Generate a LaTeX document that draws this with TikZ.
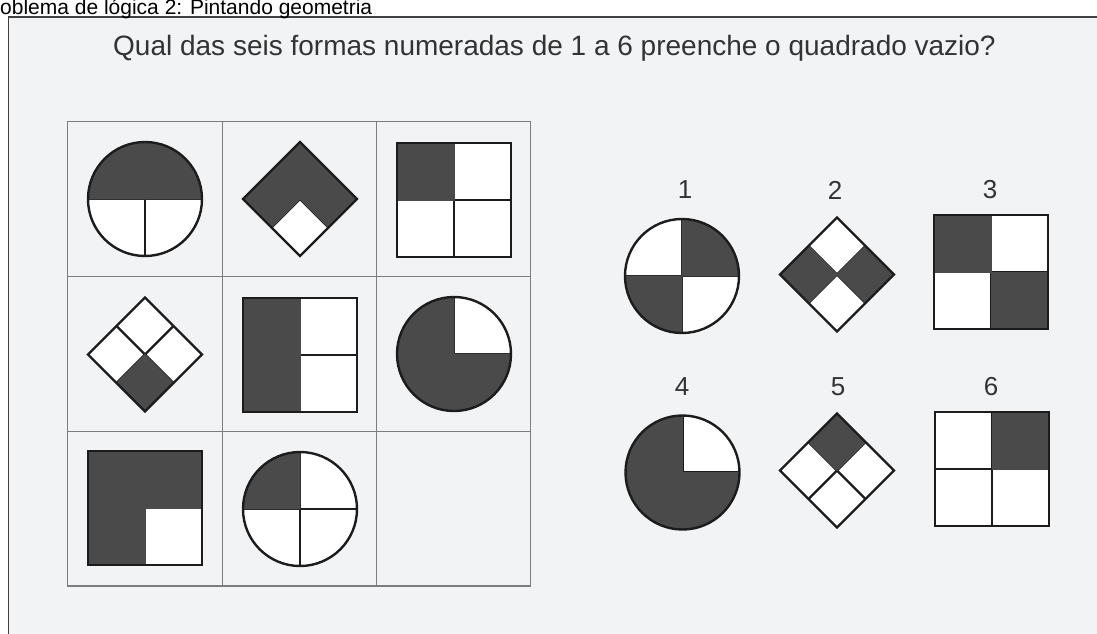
\documentclass[tikz,border=0pt]{standalone}
\usepackage{fontspec}
\setmainfont{Liberation Sans}
\usepackage{xcolor}
\definecolor{paper}{RGB}{242,243,245}
\definecolor{inkdark}{RGB}{74,74,74}
\definecolor{inkline}{RGB}{28,28,28}
\definecolor{gridgray}{RGB}{125,125,125}
\definecolor{framegray}{RGB}{64,64,64}
\usepackage{tikz}

\begin{document}
\begin{tikzpicture}[x=1pt, y=1pt,
  dk/.style={fill=inkdark, draw=inkdark, line width=0.8pt}, wt/.style={},
  figline/.style={draw=inkline, line width=2.4pt},
  gridline/.style={draw=gridgray, line width=1.1pt},
  every node/.style={inner sep=0pt, text=black!80}]
  \fill[white] (0,0) rectangle (1097,-633);
  \useasboundingbox (0,0) rectangle (1097,-633);
  % page frame, cut by the image edge
  \fill[paper] (8.5,-17) rectangle (1110,-650);
  \draw[framegray, line width=1.6pt] (1110,-17) -- (8.5,-17) -- (8.5,-650);
  \node[anchor=base west, font=\fontsize{21}{21}\selectfont, text=black] (pagetitle) at (0,-14) {oblema de lógica 2: Pintando geometria};
  \node[anchor=base west, font=\fontsize{28}{28}\selectfont] (question) at (113,-55) {Qual das seis formas numeradas de 1 a 6 preenche o quadrado vazio?};
  % 3x3 grid
  \foreach \gx in {67.3,222.7,376.7,530.7} \draw[gridline] (\gx,-121.7) -- (\gx,-586);
  \foreach \gy in {121.7,276.7,431.7,586} \draw[gridline] (67.3,-\gy) -- (530.7,-\gy);
  % circles: TL/TR/BL/BR
  \foreach \cx/\cy/\qa/\qb/\qc/\qd in {145/199/dk/dk/wt/wt, 454/354/dk/wt/dk/dk, 300/509/dk/wt/wt/wt, 682/276/wt/dk/dk/wt, 682.5/472.5/dk/wt/dk/dk} {
    \fill[white] (\cx,-\cy) circle[radius=57];
    \draw[figline] (\cx,-\cy) ++(-57,0) -- ++(114,0) (\cx,-\cy) ++(0,57) -- ++(0,-114);
    \path[\qa] (\cx,-\cy) -- ++(-57,0) arc[start angle=180, end angle=90, radius=57] -- cycle;
    \path[\qb] (\cx,-\cy) -- ++(0,57) arc[start angle=90, end angle=0, radius=57] -- cycle;
    \path[\qc] (\cx,-\cy) -- ++(0,-57) arc[start angle=270, end angle=180, radius=57] -- cycle;
    \path[\qd] (\cx,-\cy) -- ++(57,0) arc[start angle=0, end angle=-90, radius=57] -- cycle;
    \draw[figline] (\cx,-\cy) circle[radius=57];
  }
  % squares: TL/TR/BL/BR
  \foreach \cx/\cy/\qa/\qb/\qc/\qd in {454/200/dk/wt/wt/wt, 300/355/dk/wt/dk/wt, 145/508/dk/dk/dk/wt, 991/272/dk/wt/wt/dk, 992/469/wt/dk/wt/wt} {
    \fill[white] (\cx,-\cy) ++(-57,-57) rectangle ++(114,114);
    \draw[figline] (\cx,-\cy) ++(-57,0) -- ++(114,0) (\cx,-\cy) ++(0,57) -- ++(0,-114);
    \path[\qa] (\cx,-\cy) rectangle ++(-57,57);
    \path[\qb] (\cx,-\cy) rectangle ++(57,57);
    \path[\qc] (\cx,-\cy) rectangle ++(-57,-57);
    \path[\qd] (\cx,-\cy) rectangle ++(57,-57);
    \draw[figline] (\cx,-\cy) ++(-57,-57) rectangle ++(114,114);
  }
  % diamonds: top/left/right/bottom
  \foreach \cx/\cy/\qa/\qb/\qc/\qd in {300/199/dk/dk/dk/wt, 145/354.5/wt/wt/wt/dk, 837/274.5/wt/dk/dk/wt, 837/470.5/dk/wt/wt/wt} {
    \fill[white] (\cx,-\cy) ++(0,57) -- ++(57,-57) -- ++(-57,-57) -- ++(-57,57) -- cycle;
    \draw[figline] (\cx,-\cy) ++(-28.5,28.5) -- ++(57,-57) (\cx,-\cy) ++(28.5,28.5) -- ++(-57,-57);
    \path[\qa] (\cx,-\cy) -- ++(28.5,28.5) -- ++(-28.5,28.5) -- ++(-28.5,-28.5) -- cycle;
    \path[\qb] (\cx,-\cy) -- ++(-28.5,28.5) -- ++(-28.5,-28.5) -- ++(28.5,-28.5) -- cycle;
    \path[\qc] (\cx,-\cy) -- ++(28.5,28.5) -- ++(28.5,-28.5) -- ++(-28.5,-28.5) -- cycle;
    \path[\qd] (\cx,-\cy) -- ++(28.5,-28.5) -- ++(-28.5,-28.5) -- ++(-28.5,28.5) -- cycle;
    \draw[figline] (\cx,-\cy) ++(0,57) -- ++(57,-57) -- ++(-57,-57) -- ++(-57,57) -- cycle;
  }
  % answer numbers
  \foreach \n/\nx/\ny in {1/685/190, 2/835/190, 3/990/190, 4/682/387, 5/838/387, 6/991/387}
    \node[font=\fontsize{26}{26}\selectfont] (num\n) at (\nx,-\ny) {\n};
\end{tikzpicture}
\end{document}
